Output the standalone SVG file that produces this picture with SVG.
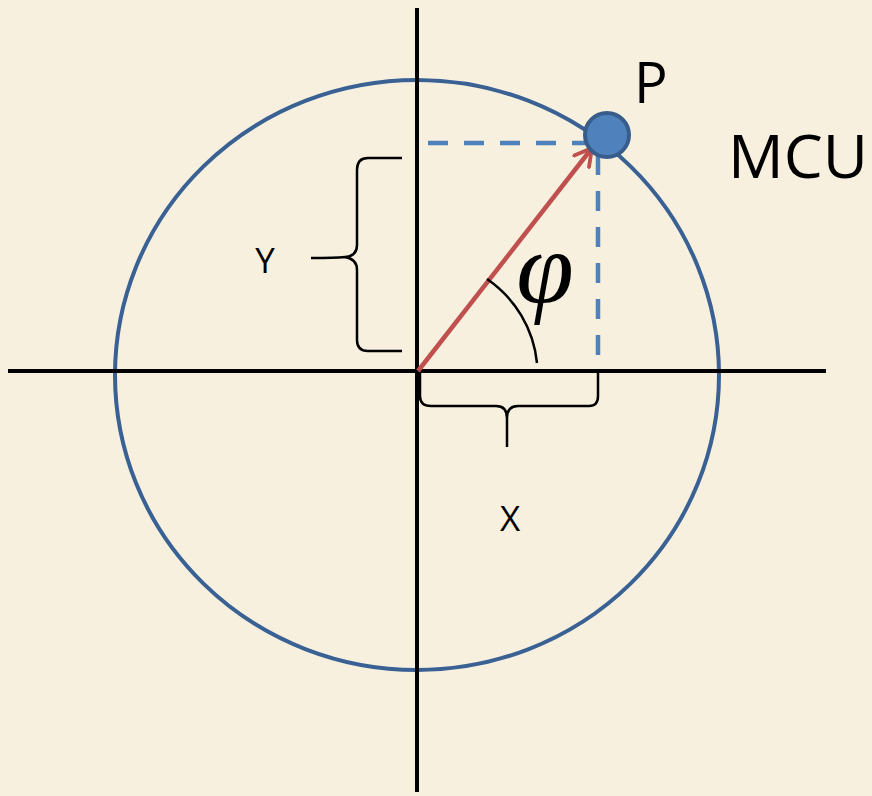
<svg xmlns="http://www.w3.org/2000/svg" width="872" height="796" viewBox="0 0 872 796">
<style>
.axis{stroke:#000;stroke-width:4;fill:none}
.dash{stroke:#4f81bd;stroke-width:4.5;stroke-dasharray:20 16;fill:none}
.brace{stroke:#000;stroke-width:2.5;fill:none}
.lbl{font-family:"Open Sans","Liberation Sans",sans-serif;fill:#000}
</style>
<defs>
<marker id="ah" viewBox="0 0 12 12" refX="10" refY="6" markerWidth="5" markerHeight="5" orient="auto" markerUnits="strokeWidth">
<path d="M1,1 L10,6 L1,11" fill="none" stroke="#c0504d" stroke-width="2" stroke-linecap="round" stroke-linejoin="round"/>
</marker>
</defs>
<rect width="872" height="796" fill="#f7f0df"/>
<g id="circle"><ellipse cx="417" cy="375" rx="302" ry="295" fill="none" stroke="#3a6193" stroke-width="4"/></g>
<g id="axes">
<line class="axis" x1="417" y1="8" x2="417" y2="792"/>
<line class="axis" x1="8" y1="371" x2="826" y2="371"/>
</g>
<g id="connectors">
<path class="dash" d="M428,143 H592"/>
<path class="dash" d="M598,155 V371"/>
<line x1="418" y1="371" x2="592" y2="148" stroke="#c0504d" stroke-width="4.5" marker-end="url(#ah)"/>
<path class="brace" d="M487,279 A116,116 0 0 1 537,363"/>
</g>
<g id="pointP"><circle cx="607" cy="135" r="22" fill="#4f81bd" stroke="#385d8a" stroke-width="4"/></g>
<g id="braceY">
<path class="brace" d="M402,158 H368 Q357,158 357,170 V245 Q357,256 345,257 Q335,258 311,258 M345,257 Q357,259 357,270 V340 Q357,351 368,351 H402"/>
</g>
<g id="braceX">
<path class="brace" d="M420,373 V396 Q420,406 431,406 H496 Q507,406 507,418 V447 M507,418 Q507,406 518,406 H589 Q598,406 598,396 V373"/>
</g>
<text class="lbl" x="265" y="273" font-size="35" text-anchor="middle">Y</text>
<text class="lbl" x="510" y="531" font-size="35" text-anchor="middle">X</text>
<text x="545" y="303" font-family="Liberation Serif,serif" font-style="italic" font-size="104" text-anchor="middle">φ</text>
<text class="lbl" x="634" y="103" font-size="56">P</text>
<text class="lbl" x="728" y="178" font-size="60" textLength="140" lengthAdjust="spacingAndGlyphs">MCU</text>
</svg>
